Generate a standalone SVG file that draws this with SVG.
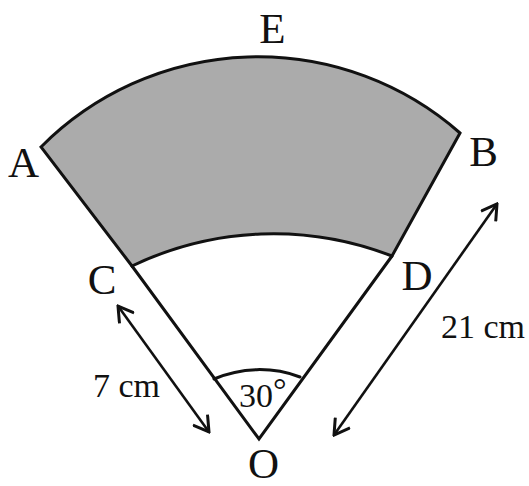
<svg xmlns="http://www.w3.org/2000/svg" width="529" height="486" viewBox="0 0 529 486">
<style>
.ln{fill:none;stroke:#111;stroke-width:3;stroke-linejoin:miter;stroke-linecap:round}
.shade{fill:#ababab;stroke:#111;stroke-width:3;stroke-linejoin:miter}
.dim{fill:none;stroke:#111;stroke-width:2.6}
.lbl{font-family:"Liberation Serif","Times New Roman",serif;font-size:43px;fill:#111}
.meas{font-family:"Liberation Serif","Times New Roman",serif;font-size:34px;fill:#111}
</style>
<defs>
<marker id="arr" viewBox="0 0 20 20" refX="18" refY="10" markerWidth="20" markerHeight="20" markerUnits="userSpaceOnUse" orient="auto-start-reverse">
<path d="M3,1 L18,10 L3,19" fill="none" stroke="#111" stroke-width="3" stroke-linejoin="miter"/>
</marker>
</defs>
<rect width="529" height="486" fill="#fff"/>
<g id="sector">
<path id="shaded" class="shade" d="M41,147 A306,306 0 0 1 460,133 L392,256 A326,326 0 0 0 132,266 Z"/>
<path id="radii" class="ln" d="M132,266 L259,439 L392,256"/>
<path id="angle-arc" class="ln" d="M214,379 A115,115 0 0 1 300,377"/>
</g>
<g id="connectors">
<line class="dim" x1="118" y1="306" x2="209" y2="432" marker-start="url(#arr)" marker-end="url(#arr)"/>
<line class="dim" x1="497" y1="204" x2="334" y2="435" marker-start="url(#arr)" marker-end="url(#arr)"/>
</g>
<g id="labels">
<text class="lbl" x="272.5" y="43" text-anchor="middle">E</text>
<text class="lbl" x="23.5" y="177" text-anchor="middle">A</text>
<text class="lbl" x="483.5" y="166" text-anchor="middle">B</text>
<text class="lbl" x="102" y="294" text-anchor="middle">C</text>
<text class="lbl" x="417" y="290" text-anchor="middle">D</text>
<text class="lbl" x="263.5" y="478" text-anchor="middle">O</text>
<text class="meas" x="93" y="397">7 cm</text>
<text class="meas" x="441" y="338">21 cm</text>
<text class="meas" x="239" y="407" font-size="26">30<tspan dy="-6">°</tspan></text>
</g>
</svg>
